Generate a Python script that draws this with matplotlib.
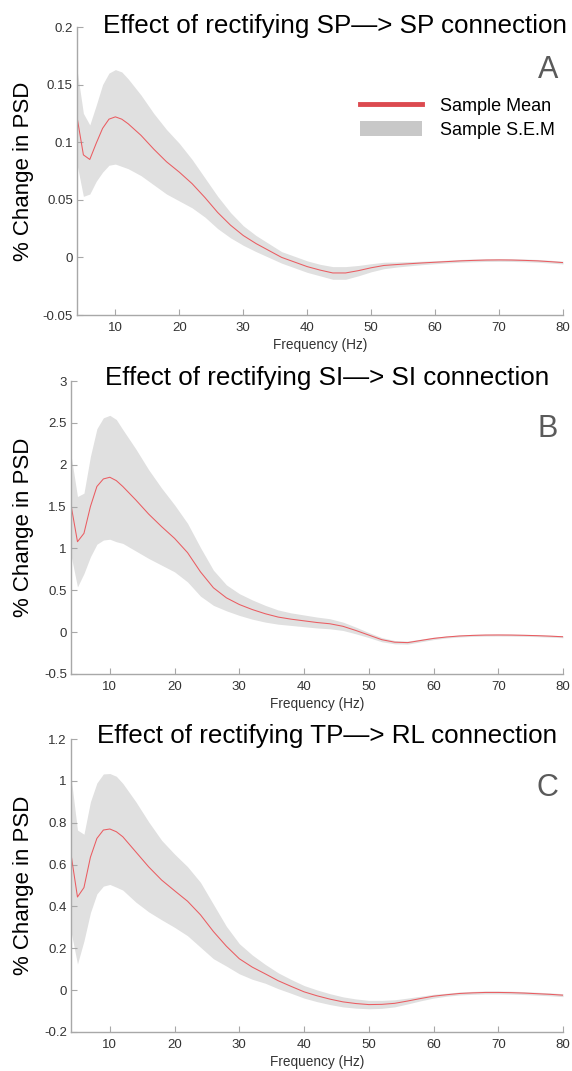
import matplotlib
matplotlib.use("Agg")
import matplotlib.pyplot as plt
from matplotlib.lines import Line2D
from matplotlib.patches import Patch
import numpy as np

plt.rcParams['font.family'] = ['Liberation Sans', 'DejaVu Sans']

# frequency samples (Hz)
freq = [4, 5, 6, 7, 8, 9, 10, 11, 12, 14, 16, 18, 20, 22, 24, 26, 28, 30, 32, 34,
        36, 38, 40, 42, 44, 46, 48, 50, 52, 54, 56, 58, 60, 62, 64, 66, 68, 70,
        72, 74, 76, 78, 80]

# Panel A: SP -> SP
mean_a = [0.122, 0.089, 0.085, 0.099, 0.112, 0.120, 0.122, 0.120, 0.116, 0.106,
          0.094, 0.083, 0.074, 0.064, 0.052, 0.039, 0.028, 0.019, 0.012, 0.006,
          0.000, -0.004, -0.008, -0.011, -0.0135, -0.0135, -0.0115, -0.009, -0.007,
          -0.0062, -0.0055, -0.0048, -0.0042, -0.0036, -0.003, -0.0026, -0.0023,
          -0.0022, -0.0023, -0.0026, -0.003, -0.0037, -0.0045]
sem_a = [0.041, 0.036, 0.030, 0.033, 0.038, 0.040, 0.041, 0.041, 0.039, 0.035,
         0.031, 0.028, 0.025, 0.021, 0.017, 0.014, 0.011, 0.0085, 0.007, 0.006,
         0.005, 0.005, 0.005, 0.005, 0.0055, 0.0055, 0.0045, 0.0035, 0.0028,
         0.0022, 0.0018, 0.0015, 0.0013, 0.0012, 0.0012, 0.0012, 0.0012, 0.0012,
         0.0012, 0.0012, 0.0012, 0.0012, 0.0012]

# Panel B: SI -> SI
mean_b = [1.52, 1.08, 1.18, 1.50, 1.74, 1.83, 1.85, 1.81, 1.74, 1.58, 1.41, 1.26,
          1.12, 0.95, 0.72, 0.53, 0.41, 0.33, 0.27, 0.22, 0.18, 0.155, 0.135, 0.115,
          0.10, 0.07, 0.02, -0.035, -0.09, -0.12, -0.125, -0.10, -0.075, -0.058,
          -0.046, -0.039, -0.035, -0.034, -0.035, -0.038, -0.042, -0.048, -0.055]
sem_b = [0.60, 0.54, 0.48, 0.60, 0.69, 0.73, 0.74, 0.73, 0.68, 0.61, 0.53, 0.46,
         0.40, 0.35, 0.29, 0.21, 0.155, 0.13, 0.115, 0.10, 0.085, 0.075, 0.07,
         0.065, 0.06, 0.05, 0.04, 0.03, 0.025, 0.02, 0.018, 0.016, 0.014, 0.012,
         0.012, 0.012, 0.012, 0.012, 0.012, 0.012, 0.012, 0.012, 0.012]

# Panel C: TP -> RL
mean_c = [0.65, 0.445, 0.49, 0.635, 0.725, 0.765, 0.77, 0.757, 0.733, 0.661, 0.589,
          0.526, 0.475, 0.425, 0.36, 0.28, 0.21, 0.15, 0.11, 0.078, 0.045, 0.018,
          -0.008, -0.027, -0.043, -0.056, -0.064, -0.069, -0.068, -0.063, -0.052,
          -0.040, -0.029, -0.022, -0.016, -0.013, -0.011, -0.011, -0.012, -0.014,
          -0.017, -0.020, -0.024]
sem_c = [0.37, 0.32, 0.255, 0.265, 0.265, 0.268, 0.265, 0.265, 0.255, 0.24, 0.215,
         0.19, 0.175, 0.165, 0.155, 0.13, 0.095, 0.072, 0.058, 0.045, 0.038, 0.033,
         0.03, 0.028, 0.026, 0.024, 0.022, 0.02, 0.019, 0.017, 0.014, 0.011, 0.009,
         0.007, 0.007, 0.007, 0.007, 0.007, 0.007, 0.007, 0.007, 0.007, 0.007]

titles = ['Effect of rectifying SP\u2014> SP connection',
          'Effect of rectifying SI\u2014> SI connection',
          'Effect of rectifying TP\u2014> RL connection']
letters = ['A', 'B', 'C']
yticks_a = [-0.05, 0, 0.05, 0.1, 0.15, 0.2]
yticks_b = [-0.5, 0, 0.5, 1, 1.5, 2, 2.5, 3]
yticks_c = [-0.2, 0, 0.2, 0.4, 0.6, 0.8, 1, 1.2]
xticks = [10, 20, 30, 40, 50, 60, 70, 80]

W, H = 572, 1071
line_color = '#ea5c61'
band_color = '#e0e0e0'
axis_color = '#a8a8a8'
text_grey = '#333333'

fig = plt.figure(figsize=(W / 100, H / 100), dpi=100)

# pixel boxes: left, top, right, bottom
boxes = [(77, 27, 563, 315), (71, 381, 563, 674), (71, 739, 563, 1032)]
title_pos = [(335, 33), (327, 385), (327, 743)]
letter_pos = [(558, 78), (558, 437), (558, 796)]

panels = [(mean_a, sem_a, yticks_a), (mean_b, sem_b, yticks_b), (mean_c, sem_c, yticks_c)]

for i, (mean, sem, yt) in enumerate(panels):
    l, t, r, b = boxes[i]
    ax = fig.add_axes([l / W, 1 - b / H, (r - l) / W, (b - t) / H])
    m = np.array(mean)
    s = np.array(sem)
    ax.fill_between(freq, m - s, m + s, color=band_color, lw=0)
    ax.plot(freq, m, color=line_color, lw=0.75)

    ax.set_xlim(4, 80)
    ax.set_ylim(yt[0], yt[-1])
    ax.set_xticks(xticks)
    ax.set_yticks(yt)
    ax.set_yticklabels([f'{v:g}' for v in yt])
    for side in ['top', 'right']:
        ax.spines[side].set_visible(False)
    for side in ['left', 'bottom']:
        ax.spines[side].set_color(axis_color)
        ax.spines[side].set_linewidth(1.0)
    ax.tick_params(direction='in', length=4, width=0.8, color=axis_color,
                   labelsize=9.5, labelcolor=text_grey)
    ax.tick_params(axis='x', pad=5)
    ax.tick_params(axis='y', pad=3)

    ax.set_xlabel('Frequency (Hz)', fontsize=9.8, color=text_grey, labelpad=3)
    ax.set_ylabel('% Change in PSD', fontsize=16, color='black')
    ax.yaxis.set_label_coords((34 - l) / (r - l), 0.5)

    tx, ty = title_pos[i]
    fig.text(tx / W, 1 - ty / H, titles[i], fontsize=18.7, ha='center', va='baseline')
    lx, ly = letter_pos[i]
    fig.text(lx / W, 1 - ly / H, letters[i], fontsize=22, color='#5a5a5a',
             ha='right', va='baseline')

    if i == 0:
        handles = [Line2D([], [], color='#dc4a4f', lw=3.5),
                   Patch(facecolor='#c8c8c8', edgecolor='none')]
        ax.legend(handles, ['Sample Mean', 'Sample S.E.M'], loc='upper right',
                  bbox_to_anchor=((562 - l) / (r - l), (t - 90) / (b - t) + 1),
                  frameon=False, fontsize=13, handlelength=3.4, handleheight=0.9,
                  handletextpad=1.0, labelspacing=0.33, borderaxespad=0)

fig.savefig('out.png', dpi=100)
